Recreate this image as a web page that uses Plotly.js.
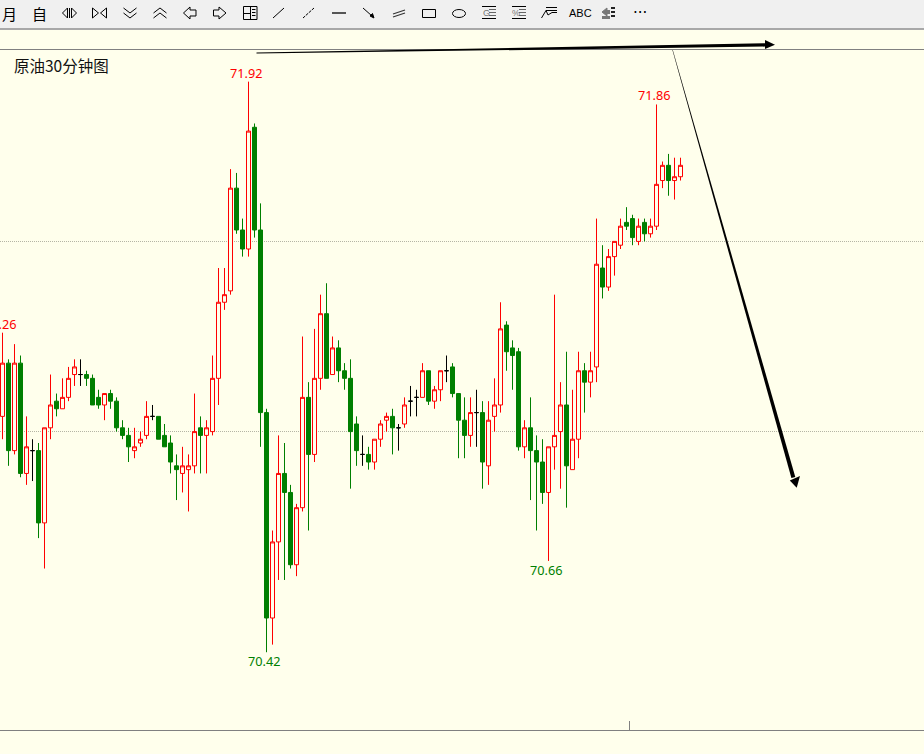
<!DOCTYPE html>
<html><head><meta charset="utf-8">
<script src="https://cdn.plot.ly/plotly-3.0.1.min.js"></script>
<style>html,body{margin:0;padding:0;background:#FFFFEC;overflow:hidden}#c{width:924px;height:754px}</style>
</head><body><div id="c"></div>
<script>
const highs=[71.26,71.19,71.23,71.20,71.04,70.98,70.97,71.01,71.15,71.10,71.14,71.17,71.19,71.19,71.16,71.15,71.11,71.10,71.11,71.09,
71.03,71.01,71.01,71.00,71.08,71.07,71.04,71.02,70.99,70.94,70.96,70.94,71.10,71.04,71.03,71.20,71.43,71.43,71.69,71.68,
71.56,71.92,71.81,71.60,71.06,70.74,70.99,70.97,70.86,70.81,71.25,71.13,71.27,71.36,71.39,71.25,71.24,71.18,71.19,71.04,
70.99,70.96,70.98,71.03,71.05,71.06,71.02,71.09,71.12,71.11,71.18,71.16,71.12,71.16,71.20,71.18,71.10,71.09,71.09,71.11,
71.08,71.08,71.14,71.34,71.29,71.24,71.22,71.03,71.09,70.99,70.98,70.96,71.36,71.13,71.21,71.11,71.21,71.18,71.21,71.56,
71.49,71.48,71.50,71.56,71.59,71.57,71.56,71.56,71.56,71.86,71.71,71.73,71.72,71.72];
const opens=[71.04,71.18,70.95,71.18,70.89,70.95,70.95,70.76,71.01,71.08,71.06,71.09,71.15,71.15,71.15,71.14,71.09,71.07,71.10,71.08,
71.01,70.99,70.95,70.97,70.99,71.04,71.04,70.99,70.97,70.91,70.89,70.90,70.91,71.01,70.99,71.00,71.14,71.34,71.37,71.64,
71.53,71.48,71.80,71.53,71.05,70.51,70.71,70.89,70.84,70.65,70.80,71.09,70.94,71.14,71.31,71.15,71.22,71.16,71.14,71.02,
70.94,70.94,70.92,70.98,71.03,71.04,71.01,71.02,71.08,71.09,71.09,71.16,71.08,71.11,71.16,71.17,71.10,71.03,70.99,71.05,
71.05,70.91,71.04,71.07,71.28,71.22,71.21,70.96,71.01,70.95,70.92,70.84,70.96,71.00,71.07,70.90,70.98,71.16,71.13,71.17,
71.43,71.38,71.46,71.49,71.55,71.56,71.50,71.55,71.52,71.54,71.66,71.70,71.66,71.67];
const closes=[71.18,70.95,71.18,70.89,70.96,70.95,70.76,71.01,71.07,71.06,71.09,71.14,71.17,71.15,71.14,71.07,71.07,71.10,71.08,71.01,
70.99,70.96,70.96,70.98,71.04,71.04,70.98,70.96,70.92,70.90,70.91,70.91,71.00,70.99,71.01,71.14,71.34,71.36,71.64,71.53,
71.48,71.79,71.53,71.05,70.51,70.71,70.89,70.84,70.65,70.80,71.09,70.94,71.14,71.31,71.14,71.22,71.16,71.14,71.00,70.95,
70.94,70.92,70.98,71.02,71.04,71.01,71.01,71.07,71.08,71.09,71.16,71.08,71.11,71.16,71.16,71.10,71.03,70.99,71.05,71.05,
70.92,71.03,71.07,71.27,71.21,71.20,70.96,71.01,70.95,70.92,70.84,70.96,70.99,71.07,70.91,70.98,71.16,71.13,71.16,71.44,
71.38,71.46,71.50,71.54,71.54,71.51,71.54,71.52,71.54,71.65,71.70,71.66,71.67,71.70];
const lows=[70.98,70.91,70.94,70.88,70.86,70.87,70.72,70.64,70.98,71.04,71.06,71.08,71.12,71.12,71.12,71.07,71.06,71.03,71.06,71.00,
70.98,70.92,70.93,70.96,70.98,71.03,70.98,70.96,70.89,70.82,70.84,70.79,70.89,70.89,70.89,70.99,71.07,71.32,71.36,71.52,
71.46,71.46,71.51,70.96,70.42,70.44,70.61,70.61,70.64,70.62,70.79,70.74,70.92,71.11,71.14,71.15,71.13,71.11,70.85,70.91,
70.91,70.90,70.90,70.96,71.00,70.94,70.95,71.01,71.04,71.04,71.09,71.07,71.06,71.08,71.13,71.09,70.93,70.93,70.96,70.96,
70.85,70.86,71.00,71.05,71.16,71.11,70.95,70.93,70.82,70.74,70.81,70.66,70.90,70.85,70.80,70.90,70.93,71.05,71.09,71.13,
71.35,71.37,71.41,71.48,71.53,71.49,71.49,71.50,71.51,71.53,71.64,71.62,71.61,71.66];
const gridLevels=[71.0,71.5];
const highLabels=[0,41,109];
const lowLabels=[44,91];
const titleText="原油30分钟图";

const W=924,H=754,BG="#FFFFEC",RED="#FF0000",GREEN="#007F00";
const idx=highs.map((_,i)=>i);
const isDoji=i=>opens[i]===closes[i];
const pick=(a,f)=>a.filter((_,i)=>f(i));
const base={type:"candlestick",whiskerwidth:0,hoverinfo:"skip",showlegend:false};
const main=Object.assign({},base,{
  x:pick(idx,i=>!isDoji(i)),open:pick(opens,i=>!isDoji(i)),high:pick(highs,i=>!isDoji(i)),
  low:pick(lows,i=>!isDoji(i)),close:pick(closes,i=>!isDoji(i)),
  increasing:{line:{color:RED,width:1},fillcolor:BG},
  decreasing:{line:{color:GREEN,width:1},fillcolor:GREEN}});
const doji=Object.assign({},base,{
  x:pick(idx,isDoji),open:pick(opens,isDoji),high:pick(highs,isDoji),
  low:pick(lows,isDoji),close:pick(closes,isDoji),
  increasing:{line:{color:"#000",width:1},fillcolor:"#000"},
  decreasing:{line:{color:"#000",width:1},fillcolor:"#000"}});

// helpers: page-pixel drawing for the window chrome and hand-drawn arrows
const px=x=>x/W, py=y=>1-y/H;
function path(d,o){
  const s=d.replace(/([MLQC])\s*((?:-?[\d.]+\s+-?[\d.]+\s*)+)/g,(m,c,nums)=>{
    const n=nums.trim().split(/\s+/).map(Number),r=[];
    for(let k=0;k<n.length;k+=2)r.push(px(n[k]).toFixed(5)+","+py(n[k+1]).toFixed(5));
    return c+r.join(" ")+" ";});
  return Object.assign({type:"path",xref:"paper",yref:"paper",path:s,layer:"above",
    line:{color:"#000",width:1},fillcolor:"rgba(0,0,0,0)"},o||{});
}
function box(x0,y0,x1,y1,fill,lc){return {type:"rect",xref:"paper",yref:"paper",x0:px(x0),x1:px(x1),y0:py(y0),y1:py(y1),layer:"above",
  fillcolor:fill||"rgba(0,0,0,0)",line:{width:lc?1:0,color:lc||"rgba(0,0,0,0)"}};}
function seg(x0,y0,x1,y1,c,w,dash){return {type:"line",xref:"paper",yref:"paper",x0:px(x0),x1:px(x1),y0:py(y0),y1:py(y1),layer:"above",
  line:{color:c||"#000",width:w||1,dash:dash||"solid"}};}
const solid={fillcolor:"#000",line:{width:0,color:"rgba(0,0,0,0)"}};
const shapes=[
  box(0,0,W,28,"#F0F0F0"),box(0,28,W,30,"#A8A8A8"),
  seg(0,49.5,W,49.5,"#808080"),seg(0,730.5,W,730.5,"#808080"),seg(629.5,721,629.5,730,"#808080"),
  // toolbar icons
  path("M67.5 8 L62.5 13 L67.5 18 Z"),path("M71.5 8 L76.5 13 L71.5 18 Z"),seg(69.5,8,69.5,18,"#000"),
  path("M92.5 8 L92.5 18 L98.5 13 Z"),path("M106.5 8 L106.5 18 L100.5 13 Z"),
  path("M123.5 8 L130 13 L136.5 8"),path("M123.5 13 L130 18 L136.5 13"),
  path("M153.5 13 L160 8 L166.5 13"),path("M153.5 18 L160 13 L166.5 18"),
  path("M183.5 13 L190 7 L190 10 L196 10 L196 16 L190 16 L190 19 Z"),
  path("M226 13 L219 7 L219 10 L213.5 10 L213.5 16 L219 16 L219 19 Z"),
  box(243.5,6.5,257,19.5,null,"#000"),seg(250.5,6.5,250.5,19.5),seg(243.5,13.5,250.5,13.5),
  seg(252,9.5,255.5,9.5),seg(252,12.5,255.5,12.5),seg(252,15.5,255.5,15.5),
  seg(273,18,284,8),seg(303,18,314,8,"#000",1,"3px,1px"),seg(332,13,346,13,"#000",1.3),
  seg(363,8,372,16),path("M374 18 L370 16 L372.5 13.5 Z",{fillcolor:"#000"}),
  seg(393,14,405,10,"#333",1.2),seg(393,17,405,13,"#333",1.2),
  box(422.5,9.5,435.5,17.5,null,"#000"),
  {type:"circle",xref:"paper",yref:"paper",x0:px(452.5),x1:px(465.5),y0:py(9.5),y1:py(17.5),layer:"above",line:{color:"#000",width:1}},
  seg(482,6.5,496,6.5),seg(482,18.5,496,18.5),seg(489,9.5,496,9.5,"#666"),seg(489,12.5,496,12.5,"#666"),seg(489,15.5,496,15.5,"#666"),
  seg(512,6.5,526,6.5),seg(512,18.5,526,18.5),seg(519,9.5,526,9.5,"#666"),seg(519,12.5,526,12.5,"#666"),seg(519,15.5,526,15.5,"#666"),
  seg(546,7.5,557,7.5),seg(546,10.5,557,10.5),path("M541.5 18 L546 10.5 L548 15 L552 12.5 L557 12.5"),
  path("M602 12 L607 8 L607 16 Z",{fillcolor:"#777",line:{color:"#777",width:1}}),box(605,10,610,14,"#777"),
  box(602,16,610,19,"#777"),box(611,7,615,9,"#222"),box(611,11,615,13,"#222"),box(611,15,615,17,"#222"),
  // hand-drawn arrows
  path("M256.5 52.6 L765 43.2 L765 46.6 L256.5 53.6 Z",solid),
  path("M765 40 L775 44.7 L765 49 Z",solid),
  path("M672.4 50 L672.8 50 L795.3 477 L791.4 478 Z",solid),
  path("M796.7 487.8 L789.8 480.5 L800 476 Z",solid)
];
const lab=(i,val,color,shift)=>({x:i,y:val,xref:"x",yref:"y",text:val.toFixed(2),showarrow:false,xshift:-2.5,yshift:shift,
  font:{family:"Noto Sans, sans-serif",size:12.7,color:color},xanchor:"center",yanchor:"middle"});
const tb=(x,t,size,fam,col)=>({xref:"paper",yref:"paper",x:px(x),y:py(13),text:t,showarrow:false,xanchor:"center",yanchor:"middle",
  font:{family:fam||"Noto Sans CJK SC",size:size,color:col||"#000"}});
const annotations=[
  ...highLabels.map(i=>lab(i,highs[i],RED,9)),
  ...lowLabels.map(i=>lab(i,lows[i],GREEN,-9)),
  {xref:"paper",yref:"paper",x:px(11.5),y:py(65),text:titleText,showarrow:false,xanchor:"left",yanchor:"middle",
   font:{family:"Noto Sans CJK SC",size:15.5,color:"#111"}},
  tb(9,"月",15),tb(39,"自",15),tb(580,"ABC",11,"Liberation Sans Narrow, Liberation Sans"),
  tb(640,"···",15,"DejaVu Sans"),tb(486,"G",9,"Liberation Sans","#777"),tb(516,"%",9,"Liberation Sans","#777")
];
// linear axes: 6px per bar, about 380.4px per price unit
const PXY=380.4;
const layout={width:W,height:H,margin:{l:0,r:0,t:0,b:0,pad:0},paper_bgcolor:BG,plot_bgcolor:BG,showlegend:false,dragmode:false,
  boxgap:1/3,boxgroupgap:0,boxmode:"overlay",
  xaxis:{type:"linear",range:[-2.5/6,(W-2.5)/6],visible:false,rangeslider:{visible:false},fixedrange:true},
  yaxis:{type:"linear",range:[71.5-(H-241.4)/PXY,71.5+241.4/PXY],tickvals:gridLevels,showticklabels:false,ticks:"",
    showgrid:true,griddash:"1px,1px",gridcolor:"#B5B5A5",gridwidth:1,zeroline:false,showline:false,fixedrange:true},
  shapes,annotations};
Plotly.newPlot("c",[main,doji],layout,{staticPlot:true,displayModeBar:false});
</script></body></html>
